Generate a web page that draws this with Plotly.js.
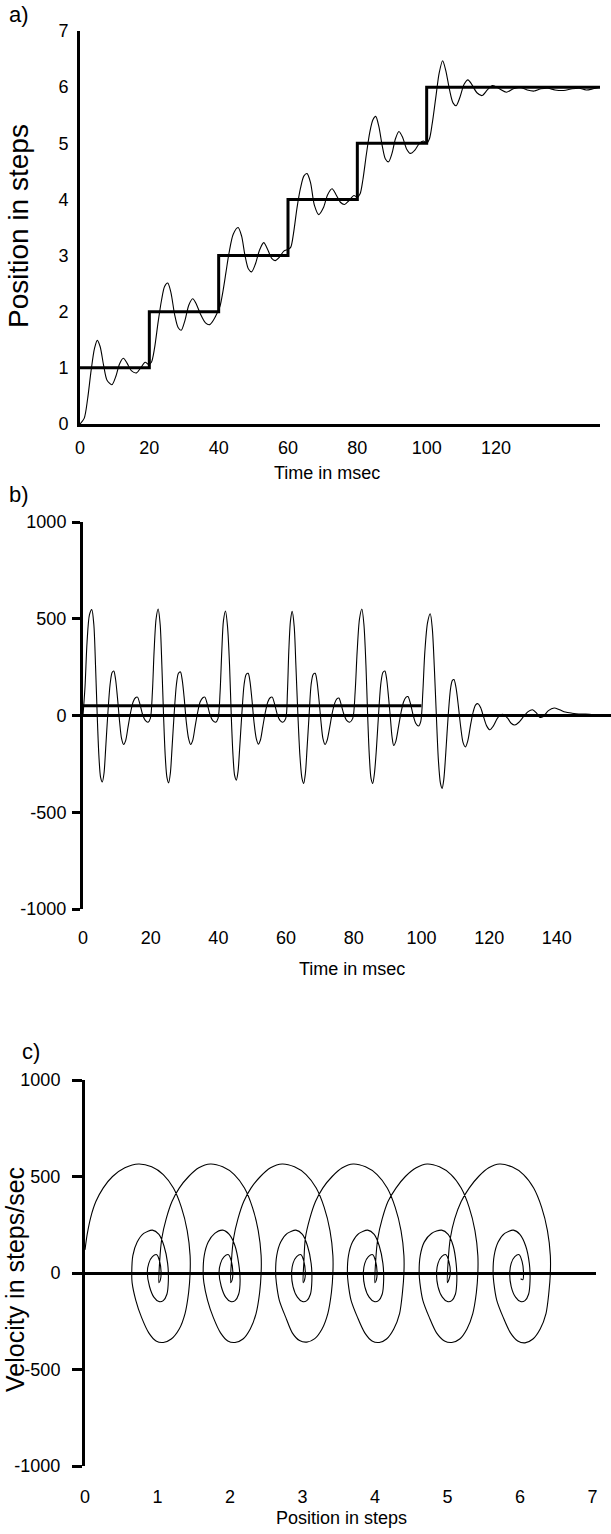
<!DOCTYPE html>
<html><head><meta charset="utf-8">
<script src="https://cdn.plot.ly/plotly-3.0.1.min.js"></script>
<style>html,body{margin:0;padding:0;background:#fff;}#chart{width:611px;height:1534px;}</style>
</head><body><div id="chart"></div>
<script>
// ---------- Panel a: position vs time ----------
const timeA = [0,1.2,2.2,3.2,4.2,5.0,5.8,6.8,7.8,9.2,10.4,11.4,12.5,13.6,14.8,16.3,17.5,18.8,19.8,
  20.6,21.5,22.5,23.5,24.4,25.3,26.2,27.3,28.3,29.2,30.3,31.4,32.5,33.6,34.8,36.2,37.4,38.6,39.6,
  40.4,41.2,42.1,43.0,44.2,45.6,46.6,47.6,48.6,49.5,50.6,51.8,53.0,54.2,55.3,56.3,57.5,58.8,60.0,
  60.8,61.6,62.6,63.6,64.6,65.5,66.5,67.6,68.9,70.2,71.4,72.7,73.9,75.1,76.3,77.6,79.0,80.0,
  80.8,81.6,82.6,83.6,84.5,85.3,86.2,87.2,88.1,89.0,90.0,91.0,92.0,93.1,94.2,95.3,96.6,97.8,99.0,100.0,
  100.8,101.6,102.6,103.6,104.6,105.5,106.6,107.6,108.5,109.6,110.8,111.9,113.0,114.5,116.0,117.5,119.0,121.0,123.0,125.0,127.0,129.0,131.0,133.0,135.0,137.0,139.5,142.0,144.0,146.0,148.0,150.0];
const posA = [0,0.1,0.45,0.95,1.35,1.49,1.38,1.05,0.78,0.70,0.86,1.07,1.17,1.08,0.95,0.91,1.0,1.10,1.06,
  1.1,1.35,1.8,2.2,2.45,2.51,2.35,1.95,1.72,1.67,1.85,2.12,2.23,2.13,1.95,1.8,1.77,1.86,1.98,
  2.1,2.35,2.7,3.05,3.38,3.50,3.35,3.0,2.76,2.71,2.85,3.1,3.23,3.1,2.95,2.91,2.97,3.08,3.11,
  3.15,3.4,3.85,4.2,4.42,4.46,4.3,3.9,3.73,3.85,4.08,4.19,4.08,3.95,3.91,3.98,4.07,4.04,
  4.1,4.35,4.8,5.2,5.42,5.48,5.3,4.95,4.72,4.67,4.82,5.08,5.21,5.1,4.9,4.82,4.88,4.99,5.04,5.0,
  5.08,5.35,5.8,6.25,6.47,6.3,5.95,5.72,5.67,5.82,6.05,6.13,6.05,5.9,5.85,5.95,6.03,5.97,5.91,5.97,6.0,5.95,5.93,5.97,5.98,5.95,5.94,5.97,5.98,5.95,5.97,6.0];
const stepTime = [0,20,40,60,80,100,150];
const stepPos  = [1,2,3,4,5,6,6];
const tickA_x = [0,20,40,60,80,100,120];
const tickA_y = [0,1,2,3,4,5,6,7];

// ---------- Panel b: velocity vs time ----------
const timeB = [0,0.6,1.2,1.9,2.6,3.2,3.7,4.2,4.7,5.2,5.7,6.2,6.7,7.3,8.0,8.6,9.1,9.6,10.2,10.8,11.4,12.0,12.6,13.3,14.0,14.8,15.5,16.1,16.8,17.6,18.4,19.2,19.9,
  20.5,21.0,21.6,22.2,22.8,23.3,23.8,24.3,24.8,25.3,25.8,26.3,26.9,27.6,28.2,28.8,29.3,29.9,30.5,31.2,31.8,32.4,33.1,33.8,34.6,35.4,36.0,36.7,37.5,38.3,39.2,39.9,
  40.5,41.0,41.5,42.1,42.7,43.3,43.8,44.3,44.8,45.3,45.8,46.3,46.9,47.6,48.2,48.8,49.3,49.9,50.5,51.2,51.8,52.4,53.1,53.8,54.6,55.3,55.9,56.6,57.4,58.2,59.0,59.9,
  60.4,60.8,61.3,61.8,62.4,62.9,63.5,64.1,64.7,65.2,65.7,66.2,66.8,67.4,68.0,68.6,69.1,69.7,70.3,70.9,71.5,72.1,72.9,73.6,74.4,75.0,75.6,76.3,77.1,77.9,78.8,79.7,
  80.4,81.0,81.7,82.4,83.0,83.6,84.1,84.6,85.1,85.6,86.1,86.7,87.3,88.0,88.6,89.2,89.7,90.3,90.9,91.3,91.8,92.4,93.2,93.9,94.7,95.4,96.0,96.7,97.5,98.3,99.1,99.8,
  100.4,101.0,101.8,102.6,103.2,103.8,104.4,105.0,105.6,106.1,106.6,107.2,107.9,108.6,109.1,109.6,110.2,110.9,111.6,112.3,113.0,113.7,114.5,115.3,116.0,116.7,117.5,118.4,119.3,120.2,121.2,122.4,123.3,124.2,125.5,126.5,127.6,128.8,130.2,131.5,132.8,133.9,135.0,136.0,137.5,139.2,140.8,142.5,144.5,146.5,148.5,150.5,152.5,155.0];
const velB = [0,150,380,520,547,470,260,0,-210,-320,-344,-300,-170,0,160,222,230,190,90,-30,-120,-150,-130,-60,10,70,92,95,60,5,-25,-35,-15,
  120,330,500,550,470,260,0,-210,-320,-348,-300,-170,0,160,218,225,185,90,-30,-120,-150,-130,-60,10,70,92,95,60,5,-25,-35,-15,
  120,330,490,540,460,260,0,-200,-310,-334,-290,-165,0,160,212,218,180,85,-30,-120,-148,-128,-60,10,70,92,95,60,5,-25,-35,-15,
  120,330,490,538,460,260,0,-210,-325,-351,-300,-170,0,160,212,218,180,85,-30,-120,-150,-130,-60,10,65,86,90,55,5,-25,-35,-15,
  120,330,500,550,470,260,0,-210,-325,-351,-300,-170,0,165,222,230,190,90,-30,-110,-155,-135,-60,10,70,94,98,65,5,-40,-54,-30,
  120,330,480,526,450,250,0,-230,-350,-377,-330,-190,0,140,180,186,145,50,-60,-140,-162,-130,-50,20,55,61,40,-10,-55,-74,-55,-15,2,5,-15,-40,-49,-35,-5,20,30,15,-10,-5,25,39,30,18,12,8,8,5,3,0];
const meanTime = [0,100];
const meanVel  = [50,50];
const tickB_x = [0,20,40,60,80,100,120,140];
const tickV = [-1000,-500,0,500,1000];
const tickV_text = ['-1000','-500','0','500','1000'];

// ---------- Panel c: velocity vs position (phase plot) ----------
const posC = [0.0,0.03,0.08,0.15,0.25,0.38,0.55,0.74,0.92,1.08,1.22,1.33,1.41,1.45,1.45,1.43,1.38,1.30,1.19,1.08,0.98,0.88,0.78,0.70,0.65,0.645,0.66,0.72,0.81,0.93,1.02,1.09,1.14,1.15,1.13,1.08,1.02,0.95,0.89,0.86,0.88,0.93,0.99,1.03,1.05,1.04,1.02,
  1.03,1.06,1.12,1.20,1.30,1.43,1.57,1.73,1.90,2.06,2.20,2.31,2.39,2.43,2.43,2.41,2.36,2.28,2.18,2.07,1.97,1.87,1.77,1.69,1.64,1.63,1.645,1.70,1.79,1.90,1.99,2.07,2.12,2.14,2.12,2.07,2.01,1.94,1.88,1.85,1.87,1.92,1.98,2.02,2.04,2.03,2.01,
  2.02,2.05,2.11,2.19,2.29,2.42,2.56,2.72,2.89,3.05,3.19,3.30,3.38,3.42,3.42,3.40,3.35,3.27,3.17,3.06,2.96,2.86,2.77,2.68,2.64,2.63,2.645,2.70,2.79,2.91,3.00,3.07,3.12,3.13,3.11,3.06,3.00,2.93,2.87,2.85,2.87,2.92,2.98,3.02,3.04,3.03,3.01,
  3.02,3.04,3.10,3.18,3.28,3.41,3.55,3.70,3.87,4.03,4.17,4.28,4.36,4.40,4.40,4.38,4.34,4.26,4.16,4.06,3.96,3.86,3.76,3.67,3.63,3.62,3.635,3.69,3.78,3.90,3.99,4.06,4.11,4.12,4.10,4.05,3.99,3.92,3.86,3.84,3.86,3.91,3.97,4.01,4.03,4.02,4.00,
  4.01,4.04,4.10,4.18,4.29,4.42,4.57,4.72,4.89,5.05,5.19,5.30,5.38,5.42,5.42,5.40,5.35,5.27,5.17,5.06,4.96,4.85,4.75,4.66,4.62,4.61,4.625,4.68,4.78,4.92,5.01,5.08,5.12,5.13,5.11,5.06,5.00,4.93,4.87,4.85,4.87,4.92,4.98,5.02,5.04,5.02,5.00,
  5.01,5.04,5.10,5.19,5.30,5.43,5.57,5.72,5.89,6.05,6.19,6.30,6.38,6.42,6.42,6.40,6.36,6.28,6.18,6.07,5.97,5.87,5.77,5.68,5.64,5.63,5.645,5.70,5.79,5.91,6.00,6.08,6.13,6.14,6.12,6.07,6.01,5.94,5.88,5.86,5.88,5.93,5.99,6.03,6.05,6.04,6.01];
const velC = [120,200,290,370,440,500,545,565,550,510,440,340,220,90,0,-100,-210,-290,-342,-360,-352,-310,-230,-140,-50,0,90,160,205,222,200,140,50,-40,-110,-143,-148,-125,-70,0,50,85,95,60,0,-35,-50,
  60,180,280,370,440,500,545,565,550,510,440,340,220,90,0,-100,-210,-290,-342,-360,-352,-310,-230,-140,-50,0,90,160,205,222,200,140,50,-40,-110,-143,-148,-125,-70,0,50,85,95,60,0,-35,-50,
  60,180,280,370,440,500,545,565,550,510,440,340,220,90,0,-100,-210,-290,-340,-358,-350,-310,-230,-140,-50,0,90,160,205,222,200,140,50,-40,-110,-143,-148,-125,-70,0,50,85,95,60,0,-35,-50,
  60,180,280,370,440,500,545,565,550,510,440,340,220,90,0,-100,-210,-290,-342,-360,-352,-310,-230,-140,-50,0,90,160,205,222,200,140,50,-40,-110,-143,-148,-125,-70,0,50,85,95,60,0,-35,-50,
  60,180,280,370,440,500,545,565,550,510,440,340,220,90,0,-100,-210,-290,-342,-360,-352,-310,-230,-140,-50,0,90,160,205,222,200,140,50,-40,-110,-143,-148,-125,-70,0,50,85,95,60,0,-35,-50,
  60,180,280,370,440,500,545,565,550,510,440,340,220,90,0,-100,-210,-290,-342,-362,-352,-310,-230,-140,-50,0,90,160,205,222,200,140,50,-40,-110,-143,-148,-125,-70,0,50,85,95,60,0,-35,-30];
const tickC_x = [0,1,2,3,4,5,6,7];

// ---------- layout helpers (pixel -> paper) ----------
const W = 611, H = 1534;
const fx = p => p / W;
const fy = p => 1 - p / H;
const FONT = '"Liberation Sans", Arial, Helvetica, sans-serif';
const BLACK = '#000';
const TICK = 18;
const thin = {color: BLACK, width: 1.1, shape: 'spline', smoothing: 0.8};

const traces = [
  {x: timeA, y: posA, xaxis: 'x', yaxis: 'y', mode: 'lines', line: thin},
  {x: stepTime, y: stepPos, xaxis: 'x', yaxis: 'y', mode: 'lines', line: {color: BLACK, width: 3, shape: 'hv'}},
  {x: timeB, y: velB, xaxis: 'x2', yaxis: 'y2', mode: 'lines', line: thin},
  {x: meanTime, y: meanVel, xaxis: 'x2', yaxis: 'y2', mode: 'lines', line: {color: BLACK, width: 3}},
  {x: posC, y: velC, xaxis: 'x3', yaxis: 'y3', mode: 'lines', line: thin}
];

const baseAxis = {showgrid: false, zeroline: false, linecolor: BLACK, tickcolor: BLACK,
  tickfont: {family: FONT, size: TICK, color: BLACK}, fixedrange: true};

function label(text, x, y, size, angle) {
  return {text: text, x: fx(x), y: fy(y), xref: 'paper', yref: 'paper', showarrow: false,
    xanchor: 'center', yanchor: 'middle', textangle: angle || 0,
    font: {family: FONT, size: size, color: BLACK}};
}

const layout = {
  width: W, height: H, margin: {l: 0, r: 0, t: 0, b: 0},
  paper_bgcolor: '#fff', plot_bgcolor: 'rgba(0,0,0,0)', showlegend: false,
  font: {family: FONT, size: TICK, color: BLACK},
  xaxis: Object.assign({}, baseAxis, {domain: [fx(80), fx(600)], range: [0, 150], anchor: 'y',
    showline: true, linewidth: 3, ticks: '', tickvals: tickA_x, ticklabelstandoff: 5}),
  yaxis: Object.assign({}, baseAxis, {domain: [fy(424), fy(31)], range: [0, 7], anchor: 'x',
    showline: true, linewidth: 3, ticks: '', tickvals: tickA_y, ticklabelstandoff: 5}),
  xaxis2: Object.assign({}, baseAxis, {domain: [fx(83), 1], range: [0, 156], anchor: 'y2',
    showline: false, ticks: '', tickvals: tickB_x, ticklabelstandoff: 16}),
  yaxis2: Object.assign({}, baseAxis, {domain: [fy(909), fy(522)], range: [-1000, 1000], anchor: 'x2',
    showline: true, linewidth: 3, ticks: 'outside', ticklen: 8, tickwidth: 3,
    tickvals: tickV, ticktext: tickV_text, zeroline: true, zerolinewidth: 3, zerolinecolor: BLACK, ticklabelstandoff: 2}),
  xaxis3: Object.assign({}, baseAxis, {domain: [fx(85), fx(596)], range: [0, 7.05], anchor: 'y3',
    showline: false, ticks: '', tickvals: tickC_x, ticklabelstandoff: 18}),
  yaxis3: Object.assign({}, baseAxis, {domain: [fy(1466), fy(1080)], range: [-1000, 1000], anchor: 'x3',
    showline: true, linewidth: 3, ticks: 'outside', ticklen: 10, tickwidth: 3,
    tickvals: tickV, ticktext: tickV_text, zeroline: true, zerolinewidth: 3, zerolinecolor: BLACK, ticklabelstandoff: 8}),
  annotations: [
    label('a)', 19, 15, 22),
    label('b)', 19, 494, 22),
    label('c)', 31, 1051, 22),
    label('Position in steps', 19, 226, 28, -90),
    label('Time in msec', 327, 473, 18),
    label('Time in msec', 352, 969, 18),
    label('Position in steps', 341, 1518, 18),
    label('Velocity in steps/sec', 15, 1280, 25, -90)
  ]
};

Plotly.newPlot('chart', traces, layout, {staticPlot: true, displayModeBar: false});
</script></body></html>
